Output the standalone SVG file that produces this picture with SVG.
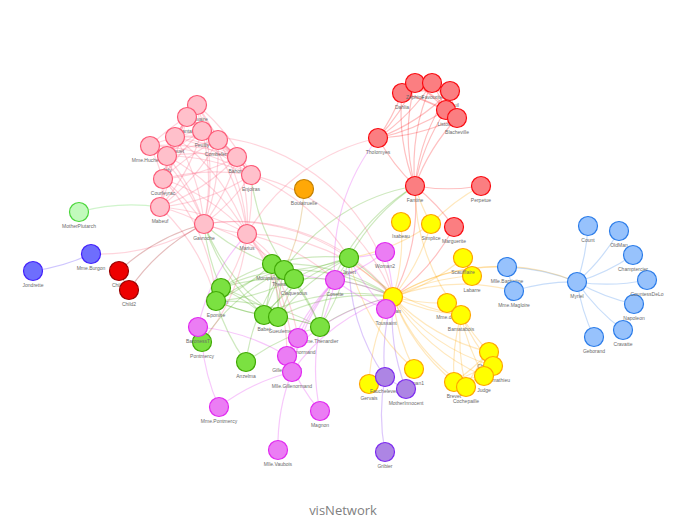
<svg xmlns="http://www.w3.org/2000/svg" width="678" height="524" viewBox="0 0 678 524">
<style>
.ed path{fill:none;stroke-width:1.2;stroke-opacity:0.26}
.e1{stroke:#2B7CE9}.e2{stroke:#FFA500}.e3{stroke:#FA0A10}.e4{stroke:#41A906}.e5{stroke:#E129F0}.e6{stroke:#7C29F0}.e7{stroke:#C37F00}.e8{stroke:#4220FB}.e9{stroke:#FD5A77}.e10{stroke:#4AD63A}.e11{stroke:#990000}
circle{stroke-width:1.2}
.c1{fill:#97C2FC;stroke:#2B7CE9}.c2{fill:#FFFF00;stroke:#FFA500}.c3{fill:#FB7E81;stroke:#FA0A10}.c4{fill:#7BE141;stroke:#41A906}.c5{fill:#EB7DF4;stroke:#E129F0}.c6{fill:#AD85E4;stroke:#7C29F0}.c7{fill:#FFA807;stroke:#C37F00}.c8{fill:#6E6EFD;stroke:#4220FB}.c9{fill:#FFC0CB;stroke:#FD5A77}.c10{fill:#C2FABC;stroke:#4AD63A}.c11{fill:#EE0000;stroke:#990000}
text.lb{font-family:"Liberation Sans",Arial,sans-serif;font-size:5px;fill:#6a6a6a;text-anchor:middle}
.title{font-family:"Open Sans","Noto Sans",sans-serif;font-size:13px;fill:#7f7f7f;text-anchor:middle}
</style>
<rect width="678" height="524" fill="#fff"/>
<g id="edges" class="ed">
<g class="e1">
<path d="M634 304A200 200 0 0 1 577 282"/><path d="M507 267A200 200 0 0 1 577 282"/><path d="M514 291A200 200 0 0 1 577 282"/><path d="M514 291A200 200 0 0 1 507 267"/><path d="M647 280A200 200 0 0 1 577 282"/><path d="M594 337A200 200 0 0 1 577 282"/><path d="M633 255A200 200 0 0 1 577 282"/><path d="M623 330A200 200 0 0 1 577 282"/><path d="M588 226A200 200 0 0 1 577 282"/><path d="M619 231A200 200 0 0 1 577 282"/>
</g>
<g class="e2">
<path d="M393 297A200 200 0 0 1 472 276"/><path d="M393 297A200 200 0 0 1 514 291"/><path d="M393 297A200 200 0 0 1 507 267"/><path d="M393 297A200 200 0 0 1 577 282"/>
<path d="M447 303A200 200 0 0 1 393 297"/><path d="M401 222A200 200 0 0 1 393 297"/><path d="M369 384A200 200 0 0 1 393 297"/>
<path d="M461 315A200 200 0 0 1 415 186"/><path d="M461 315A200 200 0 0 1 349 258"/><path d="M461 315A200 200 0 0 1 393 297"/>
<path d="M431 224A200 200 0 0 1 481 186"/><path d="M431 224A200 200 0 0 1 393 297"/><path d="M431 224A200 200 0 0 1 415 186"/><path d="M431 224A200 200 0 0 1 349 258"/>
<path d="M463 258A200 200 0 0 1 393 297"/><path d="M414 369A200 200 0 0 1 393 297"/><path d="M414 369A200 200 0 0 1 349 258"/>
<path d="M484 376A200 200 0 0 1 393 297"/><path d="M484 376A200 200 0 0 1 461 315"/>
<path d="M493 366A200 200 0 0 1 393 297"/><path d="M493 366A200 200 0 0 1 484 376"/><path d="M493 366A200 200 0 0 1 461 315"/>
<path d="M454 382A200 200 0 0 1 484 376"/><path d="M454 382A200 200 0 0 1 493 366"/><path d="M454 382A200 200 0 0 1 393 297"/><path d="M454 382A200 200 0 0 1 461 315"/>
<path d="M489 352A200 200 0 0 1 484 376"/><path d="M489 352A200 200 0 0 1 493 366"/><path d="M489 352A200 200 0 0 1 454 382"/><path d="M489 352A200 200 0 0 1 393 297"/><path d="M489 352A200 200 0 0 1 461 315"/>
<path d="M466 387A200 200 0 0 1 484 376"/><path d="M466 387A200 200 0 0 1 493 366"/><path d="M466 387A200 200 0 0 1 454 382"/><path d="M466 387A200 200 0 0 1 489 352"/><path d="M466 387A200 200 0 0 1 393 297"/><path d="M466 387A200 200 0 0 1 461 315"/>
</g>
<g class="e3">
<path d="M454 227A200 200 0 0 1 393 297"/>
<path d="M446 110A200 200 0 0 1 378 138"/>
<path d="M450 91A200 200 0 0 1 378 138"/><path d="M450 91A200 200 0 0 1 446 110"/>
<path d="M457 118A200 200 0 0 1 378 138"/><path d="M457 118A200 200 0 0 1 446 110"/><path d="M457 118A200 200 0 0 1 450 91"/>
<path d="M432 83A200 200 0 0 1 378 138"/><path d="M432 83A200 200 0 0 1 446 110"/><path d="M432 83A200 200 0 0 1 450 91"/><path d="M432 83A200 200 0 0 1 457 118"/>
<path d="M402 93A200 200 0 0 1 446 110"/><path d="M402 93A200 200 0 0 1 450 91"/><path d="M402 93A200 200 0 0 1 457 118"/><path d="M402 93A200 200 0 0 1 432 83"/><path d="M402 93A200 200 0 0 1 378 138"/>
<path d="M415 83A200 200 0 0 1 446 110"/><path d="M415 83A200 200 0 0 1 450 91"/><path d="M415 83A200 200 0 0 1 457 118"/><path d="M415 83A200 200 0 0 1 432 83"/><path d="M415 83A200 200 0 0 1 402 93"/><path d="M415 83A200 200 0 0 1 378 138"/>
<path d="M415 186A200 200 0 0 1 446 110"/><path d="M415 186A200 200 0 0 1 450 91"/><path d="M415 186A200 200 0 0 1 457 118"/><path d="M415 186A200 200 0 0 1 432 83"/><path d="M415 186A200 200 0 0 1 402 93"/><path d="M415 186A200 200 0 0 1 378 138"/><path d="M415 186A200 200 0 0 1 415 83"/><path d="M415 186A200 200 0 0 1 454 227"/><path d="M415 186A200 200 0 0 1 393 297"/>
<path d="M481 186A200 200 0 0 1 415 186"/>
</g>
<g class="e4">
<path d="M320 327A200 200 0 0 1 415 186"/><path d="M320 327A200 200 0 0 1 393 297"/>
<path d="M284 270A200 200 0 0 1 320 327"/><path d="M284 270A200 200 0 0 1 415 186"/><path d="M284 270A200 200 0 0 1 393 297"/>
<path d="M349 258A200 200 0 0 1 393 297"/><path d="M349 258A200 200 0 0 1 415 186"/><path d="M349 258A200 200 0 0 1 284 270"/><path d="M349 258A200 200 0 0 1 320 327"/><path d="M349 258A200 200 0 0 1 335 280"/>
<path d="M202 342A200 200 0 0 1 284 270"/>
<path d="M216 301A200 200 0 0 1 320 327"/><path d="M216 301A200 200 0 0 1 284 270"/>
<path d="M246 362A200 200 0 0 1 216 301"/><path d="M246 362A200 200 0 0 1 284 270"/><path d="M246 362A200 200 0 0 1 320 327"/>
<path d="M278 317A200 200 0 0 1 284 270"/><path d="M278 317A200 200 0 0 1 393 297"/><path d="M278 317A200 200 0 0 1 320 327"/><path d="M278 317A200 200 0 0 1 349 258"/><path d="M278 317A200 200 0 0 1 204 224"/><path d="M278 317A200 200 0 0 1 216 301"/>
<path d="M264 315A200 200 0 0 1 284 270"/><path d="M264 315A200 200 0 0 1 278 317"/><path d="M264 315A200 200 0 0 1 393 297"/><path d="M264 315A200 200 0 0 1 320 327"/><path d="M264 315A200 200 0 0 1 349 258"/><path d="M264 315A200 200 0 0 1 204 224"/><path d="M264 315A200 200 0 0 1 216 301"/>
<path d="M294 279A200 200 0 0 1 284 270"/><path d="M294 279A200 200 0 0 1 264 315"/><path d="M294 279A200 200 0 0 1 278 317"/><path d="M294 279A200 200 0 0 1 393 297"/><path d="M294 279A200 200 0 0 1 320 327"/><path d="M294 279A200 200 0 0 1 349 258"/><path d="M294 279A200 200 0 0 1 216 301"/><path d="M294 279A200 200 0 0 1 251 175"/>
<path d="M272 264A200 200 0 0 1 349 258"/><path d="M272 264A200 200 0 0 1 264 315"/><path d="M272 264A200 200 0 0 1 278 317"/><path d="M272 264A200 200 0 0 1 294 279"/><path d="M272 264A200 200 0 0 1 393 297"/><path d="M272 264A200 200 0 0 1 204 224"/><path d="M272 264A200 200 0 0 1 216 301"/><path d="M272 264A200 200 0 0 1 284 270"/>
<path d="M221 288A200 200 0 0 1 264 315"/><path d="M221 288A200 200 0 0 1 278 317"/><path d="M221 288A200 200 0 0 1 284 270"/><path d="M221 288A200 200 0 0 1 204 224"/><path d="M221 288A200 200 0 0 1 216 301"/><path d="M221 288A200 200 0 0 1 294 279"/><path d="M221 288A200 200 0 0 1 272 264"/>
</g>
<g class="e5">
<path d="M335 280A200 200 0 0 1 320 327"/><path d="M335 280A200 200 0 0 1 393 297"/><path d="M335 280A200 200 0 0 1 378 138"/><path d="M335 280A200 200 0 0 1 284 270"/>
<path d="M385 252A200 200 0 0 1 393 297"/><path d="M385 252A200 200 0 0 1 335 280"/><path d="M385 252A200 200 0 0 1 349 258"/>
<path d="M287 356A200 200 0 0 1 335 280"/><path d="M287 356A200 200 0 0 1 393 297"/>
<path d="M320 411A200 200 0 0 1 287 356"/><path d="M320 411A200 200 0 0 1 320 327"/>
<path d="M292 372A200 200 0 0 1 287 356"/><path d="M292 372A200 200 0 0 1 335 280"/><path d="M292 372A200 200 0 0 1 393 297"/>
<path d="M219 407A200 200 0 0 1 292 372"/><path d="M219 407A200 200 0 0 1 202 342"/>
<path d="M278 450A200 200 0 0 1 292 372"/>
<path d="M298 338A200 200 0 0 1 292 372"/><path d="M298 338A200 200 0 0 1 287 356"/><path d="M298 338A200 200 0 0 1 335 280"/>
<path d="M198 327A200 200 0 0 1 287 356"/><path d="M198 327A200 200 0 0 1 247 234"/>
<path d="M386 309A200 200 0 0 1 335 280"/><path d="M386 309A200 200 0 0 1 349 258"/><path d="M386 309A200 200 0 0 1 393 297"/>
</g>
<g class="e6">
<path d="M385 377A200 200 0 0 1 393 297"/><path d="M385 377A200 200 0 0 1 349 258"/>
<path d="M406 389A200 200 0 0 1 385 377"/><path d="M406 389A200 200 0 0 1 393 297"/>
<path d="M385 452A200 200 0 0 1 385 377"/>
</g>
<g class="e7"><path d="M304 189A200 200 0 0 1 284 270"/></g>
<g class="e8"><path d="M91 254A200 200 0 0 1 33 271"/></g>
<g class="e9">
<path d="M204 224A200 200 0 0 1 91 254"/><path d="M204 224A200 200 0 0 1 284 270"/><path d="M204 224A200 200 0 0 1 349 258"/><path d="M204 224A200 200 0 0 1 393 297"/>
<path d="M247 234A200 200 0 0 1 292 372"/><path d="M247 234A200 200 0 0 1 287 356"/><path d="M247 234A200 200 0 0 1 202 342"/><path d="M247 234A200 200 0 0 1 298 338"/><path d="M247 234A200 200 0 0 1 335 280"/><path d="M247 234A200 200 0 0 1 393 297"/><path d="M247 234A200 200 0 0 1 378 138"/><path d="M247 234A200 200 0 0 1 284 270"/><path d="M247 234A200 200 0 0 1 216 301"/><path d="M247 234A200 200 0 0 1 204 224"/>
<path d="M160 207A200 200 0 0 1 247 234"/><path d="M160 207A200 200 0 0 1 216 301"/><path d="M160 207A200 200 0 0 1 204 224"/>
<path d="M251 175A200 200 0 0 1 247 234"/><path d="M251 175A200 200 0 0 1 204 224"/><path d="M251 175A200 200 0 0 1 349 258"/><path d="M251 175A200 200 0 0 1 160 207"/><path d="M251 175A200 200 0 0 1 393 297"/>
<path d="M218 140A200 200 0 0 1 251 175"/><path d="M218 140A200 200 0 0 1 247 234"/><path d="M218 140A200 200 0 0 1 204 224"/><path d="M218 140A200 200 0 0 1 160 207"/>
<path d="M197 105A200 200 0 0 1 204 224"/><path d="M197 105A200 200 0 0 1 251 175"/><path d="M197 105A200 200 0 0 1 218 140"/>
<path d="M202 131A200 200 0 0 1 204 224"/><path d="M202 131A200 200 0 0 1 251 175"/><path d="M202 131A200 200 0 0 1 197 105"/><path d="M202 131A200 200 0 0 1 218 140"/><path d="M202 131A200 200 0 0 1 160 207"/><path d="M202 131A200 200 0 0 1 247 234"/>
<path d="M163 179A200 200 0 0 1 247 234"/><path d="M163 179A200 200 0 0 1 251 175"/><path d="M163 179A200 200 0 0 1 218 140"/><path d="M163 179A200 200 0 0 1 204 224"/><path d="M163 179A200 200 0 0 1 160 207"/><path d="M163 179A200 200 0 0 1 216 301"/><path d="M163 179A200 200 0 0 1 202 131"/><path d="M163 179A200 200 0 0 1 197 105"/>
<path d="M237 157A200 200 0 0 1 218 140"/><path d="M237 157A200 200 0 0 1 204 224"/><path d="M237 157A200 200 0 0 1 163 179"/><path d="M237 157A200 200 0 0 1 160 207"/><path d="M237 157A200 200 0 0 1 251 175"/><path d="M237 157A200 200 0 0 1 202 131"/><path d="M237 157A200 200 0 0 1 197 105"/><path d="M237 157A200 200 0 0 1 247 234"/>
<path d="M175 137A200 200 0 0 1 247 234"/><path d="M175 137A200 200 0 0 1 163 179"/><path d="M175 137A200 200 0 0 1 204 224"/><path d="M175 137A200 200 0 0 1 237 157"/><path d="M175 137A200 200 0 0 1 251 175"/><path d="M175 137A200 200 0 0 1 202 131"/><path d="M175 137A200 200 0 0 1 197 105"/><path d="M175 137A200 200 0 0 1 218 140"/><path d="M175 137A200 200 0 0 1 160 207"/><path d="M175 137A200 200 0 0 1 393 297"/>
<path d="M167 156A200 200 0 0 1 237 157"/><path d="M167 156A200 200 0 0 1 175 137"/><path d="M167 156A200 200 0 0 1 204 224"/><path d="M167 156A200 200 0 0 1 163 179"/><path d="M167 156A200 200 0 0 1 251 175"/><path d="M167 156A200 200 0 0 1 202 131"/><path d="M167 156A200 200 0 0 1 197 105"/><path d="M167 156A200 200 0 0 1 218 140"/><path d="M167 156A200 200 0 0 1 160 207"/><path d="M167 156A200 200 0 0 1 247 234"/>
<path d="M187 117A200 200 0 0 1 175 137"/><path d="M187 117A200 200 0 0 1 251 175"/><path d="M187 117A200 200 0 0 1 218 140"/><path d="M187 117A200 200 0 0 1 163 179"/><path d="M187 117A200 200 0 0 1 167 156"/><path d="M187 117A200 200 0 0 1 237 157"/><path d="M187 117A200 200 0 0 1 202 131"/><path d="M187 117A200 200 0 0 1 197 105"/>
<path d="M150 146A200 200 0 0 1 175 137"/><path d="M150 146A200 200 0 0 1 167 156"/><path d="M150 146A200 200 0 0 1 187 117"/><path d="M150 146A200 200 0 0 1 237 157"/><path d="M150 146A200 200 0 0 1 163 179"/><path d="M150 146A200 200 0 0 1 204 224"/><path d="M150 146A200 200 0 0 1 251 175"/>
</g>
<g class="e10"><path d="M79 212A200 200 0 0 1 160 207"/></g>
<g class="e11"><path d="M119 271A200 200 0 0 1 204 224"/><path d="M129 290A200 200 0 0 1 204 224"/><path d="M129 290A200 200 0 0 1 119 271"/></g>
</g>
<g id="nodes">
<g id="n-Myriel"><circle class="c1" cx="577" cy="282" r="9.5"/><text class="lb" x="577" y="298">Myriel</text></g>
<g id="n-Napoleon"><circle class="c1" cx="634" cy="304" r="9.5"/><text class="lb" x="634" y="320">Napoleon</text></g>
<g id="n-MlleBaptistine"><circle class="c1" cx="507" cy="267" r="9.5"/><text class="lb" x="507" y="283">Mlle.Baptistine</text></g>
<g id="n-MmeMagloire"><circle class="c1" cx="514" cy="291" r="9.5"/><text class="lb" x="514" y="307">Mme.Magloire</text></g>
<g id="n-CountessDeLo"><circle class="c1" cx="647" cy="280" r="9.5"/><text class="lb" x="647" y="296">CountessDeLo</text></g>
<g id="n-Geborand"><circle class="c1" cx="594" cy="337" r="9.5"/><text class="lb" x="594" y="353">Geborand</text></g>
<g id="n-Champtercier"><circle class="c1" cx="633" cy="255" r="9.5"/><text class="lb" x="633" y="271">Champtercier</text></g>
<g id="n-Cravatte"><circle class="c1" cx="623" cy="330" r="9.5"/><text class="lb" x="623" y="346">Cravatte</text></g>
<g id="n-Count"><circle class="c1" cx="588" cy="226" r="9.5"/><text class="lb" x="588" y="242">Count</text></g>
<g id="n-OldMan"><circle class="c1" cx="619" cy="231" r="9.5"/><text class="lb" x="619" y="247">OldMan</text></g>
<g id="n-Labarre"><circle class="c2" cx="472" cy="276" r="9.5"/><text class="lb" x="472" y="292">Labarre</text></g>
<g id="n-Valjean"><circle class="c2" cx="393" cy="297" r="9.5"/><text class="lb" x="393" y="313">Valjean</text></g>
<g id="n-Marguerite"><circle class="c3" cx="454" cy="227" r="9.5"/><text class="lb" x="454" y="243">Marguerite</text></g>
<g id="n-MmeDeR"><circle class="c2" cx="447" cy="303" r="9.5"/><text class="lb" x="447" y="319">Mme.deR</text></g>
<g id="n-Isabeau"><circle class="c2" cx="401" cy="222" r="9.5"/><text class="lb" x="401" y="238">Isabeau</text></g>
<g id="n-Gervais"><circle class="c2" cx="369" cy="384" r="9.5"/><text class="lb" x="369" y="400">Gervais</text></g>
<g id="n-Tholomyes"><circle class="c3" cx="378" cy="138" r="9.5"/><text class="lb" x="378" y="154">Tholomyes</text></g>
<g id="n-Dahlia"><circle class="c3" cx="402" cy="93" r="9.5"/><text class="lb" x="402" y="109">Dahlia</text></g>
<g id="n-Zephine"><circle class="c3" cx="415" cy="83" r="9.5"/><text class="lb" x="415" y="99">Zephine</text></g>
<g id="n-Favourite"><circle class="c3" cx="432" cy="83" r="9.5"/><text class="lb" x="432" y="99">Favourite</text></g>
<g id="n-Fameuil"><circle class="c3" cx="450" cy="91" r="9.5"/><text class="lb" x="450" y="107">Fameuil</text></g>
<g id="n-Listolier"><circle class="c3" cx="446" cy="110" r="9.5"/><text class="lb" x="446" y="126">Listolier</text></g>
<g id="n-Blacheville"><circle class="c3" cx="457" cy="118" r="9.5"/><text class="lb" x="457" y="134">Blacheville</text></g>
<g id="n-Fantine"><circle class="c3" cx="415" cy="186" r="9.5"/><text class="lb" x="415" y="202">Fantine</text></g>
<g id="n-Perpetue"><circle class="c3" cx="481" cy="186" r="9.5"/><text class="lb" x="481" y="202">Perpetue</text></g>
<g id="n-Simplice"><circle class="c2" cx="431" cy="224" r="9.5"/><text class="lb" x="431" y="240">Simplice</text></g>
<g id="n-Scaufflaire"><circle class="c2" cx="463" cy="258" r="9.5"/><text class="lb" x="463" y="274">Scaufflaire</text></g>
<g id="n-Bamatabois"><circle class="c2" cx="461" cy="315" r="9.5"/><text class="lb" x="461" y="331">Bamatabois</text></g>
<g id="n-Woman1"><circle class="c2" cx="414" cy="369" r="9.5"/><text class="lb" x="414" y="385">Woman1</text></g>
<g id="n-Chenildieu"><circle class="c2" cx="489" cy="352" r="9.5"/><text class="lb" x="489" y="368">Chenildieu</text></g>
<g id="n-Champmathieu"><circle class="c2" cx="493" cy="366" r="9.5"/><text class="lb" x="493" y="382">Champmathieu</text></g>
<g id="n-Judge"><circle class="c2" cx="484" cy="376" r="9.5"/><text class="lb" x="484" y="392">Judge</text></g>
<g id="n-Brevet"><circle class="c2" cx="454" cy="382" r="9.5"/><text class="lb" x="454" y="398">Brevet</text></g>
<g id="n-Cochepaille"><circle class="c2" cx="466" cy="387" r="9.5"/><text class="lb" x="466" y="403">Cochepaille</text></g>
<g id="n-Fauchelevent"><circle class="c6" cx="385" cy="377" r="9.5"/><text class="lb" x="385" y="393">Fauchelevent</text></g>
<g id="n-MotherInnocent"><circle class="c6" cx="406" cy="389" r="9.5"/><text class="lb" x="406" y="405">MotherInnocent</text></g>
<g id="n-Gribier"><circle class="c6" cx="385" cy="452" r="9.5"/><text class="lb" x="385" y="468">Gribier</text></g>
<g id="n-Javert"><circle class="c4" cx="349" cy="258" r="9.5"/><text class="lb" x="349" y="274">Javert</text></g>
<g id="n-Montparnasse"><circle class="c4" cx="272" cy="264" r="9.5"/><text class="lb" x="272" y="280">Montparnasse</text></g>
<g id="n-Thenardier"><circle class="c4" cx="284" cy="270" r="9.5"/><text class="lb" x="284" y="286">Thenardier</text></g>
<g id="n-Claquesous"><circle class="c4" cx="294" cy="279" r="9.5"/><text class="lb" x="294" y="295">Claquesous</text></g>
<g id="n-Brujon"><circle class="c4" cx="221" cy="288" r="9.5"/><text class="lb" x="221" y="304">Brujon</text></g>
<g id="n-Eponine"><circle class="c4" cx="216" cy="301" r="9.5"/><text class="lb" x="216" y="317">Eponine</text></g>
<g id="n-Babet"><circle class="c4" cx="264" cy="315" r="9.5"/><text class="lb" x="264" y="331">Babet</text></g>
<g id="n-Gueulemer"><circle class="c4" cx="278" cy="317" r="9.5"/><text class="lb" x="281" y="333">Gueulemer</text></g>
<g id="n-MmeThenardier"><circle class="c4" cx="320" cy="327" r="9.5"/><text class="lb" x="320" y="343">Mme.Thenardier</text></g>
<g id="n-Pontmercy"><circle class="c4" cx="202" cy="342" r="9.5"/><text class="lb" x="202" y="358">Pontmercy</text></g>
<g id="n-Anzelma"><circle class="c4" cx="246" cy="362" r="9.5"/><text class="lb" x="246" y="378">Anzelma</text></g>
<g id="n-Boulatruelle"><circle class="c7" cx="304" cy="189" r="9.5"/><text class="lb" x="304" y="205">Boulatruelle</text></g>
<g id="n-Woman2"><circle class="c5" cx="385" cy="252" r="9.5"/><text class="lb" x="385" y="268">Woman2</text></g>
<g id="n-Cosette"><circle class="c5" cx="335" cy="280" r="9.5"/><text class="lb" x="335" y="296">Cosette</text></g>
<g id="n-Toussaint"><circle class="c5" cx="386" cy="309" r="9.5"/><text class="lb" x="386" y="325">Toussaint</text></g>
<g id="n-BaronessT"><circle class="c5" cx="198" cy="327" r="9.5"/><text class="lb" x="198" y="343">BaronessT</text></g>
<g id="n-LtGillenormand"><circle class="c5" cx="298" cy="338" r="9.5"/><text class="lb" x="298" y="354">Lt.Gillenormand</text></g>
<g id="n-Gillenormand"><circle class="c5" cx="287" cy="356" r="9.5"/><text class="lb" x="287" y="372">Gillenormand</text></g>
<g id="n-MlleGillenormand"><circle class="c5" cx="292" cy="372" r="9.5"/><text class="lb" x="292" y="388">Mlle.Gillenormand</text></g>
<g id="n-MmePontmercy"><circle class="c5" cx="219" cy="407" r="9.5"/><text class="lb" x="219" y="423">Mme.Pontmercy</text></g>
<g id="n-Magnon"><circle class="c5" cx="320" cy="411" r="9.5"/><text class="lb" x="320" y="427">Magnon</text></g>
<g id="n-MlleVaubois"><circle class="c5" cx="278" cy="450" r="9.5"/><text class="lb" x="278" y="466">Mlle.Vaubois</text></g>
<g id="n-Jondrette"><circle class="c8" cx="33" cy="271" r="9.5"/><text class="lb" x="33" y="287">Jondrette</text></g>
<g id="n-MmeBurgon"><circle class="c8" cx="91" cy="254" r="9.5"/><text class="lb" x="91" y="270">Mme.Burgon</text></g>
<g id="n-MotherPlutarch"><circle class="c10" cx="79" cy="212" r="9.5"/><text class="lb" x="79" y="228">MotherPlutarch</text></g>
<g id="n-Child1"><circle class="c11" cx="119" cy="271" r="9.5"/><text class="lb" x="119" y="287">Child1</text></g>
<g id="n-Child2"><circle class="c11" cx="129" cy="290" r="9.5"/><text class="lb" x="129" y="306">Child2</text></g>
<g id="n-Prouvaire"><circle class="c9" cx="197" cy="105" r="9.5"/><text class="lb" x="197" y="121">Prouvaire</text></g>
<g id="n-Grantaire"><circle class="c9" cx="187" cy="117" r="9.5"/><text class="lb" x="187" y="133">Grantaire</text></g>
<g id="n-Feuilly"><circle class="c9" cx="202" cy="131" r="9.5"/><text class="lb" x="202" y="147">Feuilly</text></g>
<g id="n-Bossuet"><circle class="c9" cx="175" cy="137" r="9.5"/><text class="lb" x="175" y="153">Bossuet</text></g>
<g id="n-Combeferre"><circle class="c9" cx="218" cy="140" r="9.5"/><text class="lb" x="218" y="156">Combeferre</text></g>
<g id="n-MmeHucheloup"><circle class="c9" cx="150" cy="146" r="9.5"/><text class="lb" x="150" y="162">Mme.Hucheloup</text></g>
<g id="n-Joly"><circle class="c9" cx="167" cy="156" r="9.5"/><text class="lb" x="167" y="172">Joly</text></g>
<g id="n-Bahorel"><circle class="c9" cx="237" cy="157" r="9.5"/><text class="lb" x="237" y="173">Bahorel</text></g>
<g id="n-Enjolras"><circle class="c9" cx="251" cy="175" r="9.5"/><text class="lb" x="251" y="191">Enjolras</text></g>
<g id="n-Courfeyrac"><circle class="c9" cx="163" cy="179" r="9.5"/><text class="lb" x="163" y="195">Courfeyrac</text></g>
<g id="n-Mabeuf"><circle class="c9" cx="160" cy="207" r="9.5"/><text class="lb" x="160" y="223">Mabeuf</text></g>
<g id="n-Gavroche"><circle class="c9" cx="204" cy="224" r="9.5"/><text class="lb" x="204" y="240">Gavroche</text></g>
<g id="n-Marius"><circle class="c9" cx="247" cy="234" r="9.5"/><text class="lb" x="247" y="250">Marius</text></g>
</g>
<text class="title" x="343" y="515">visNetwork</text>
</svg>
